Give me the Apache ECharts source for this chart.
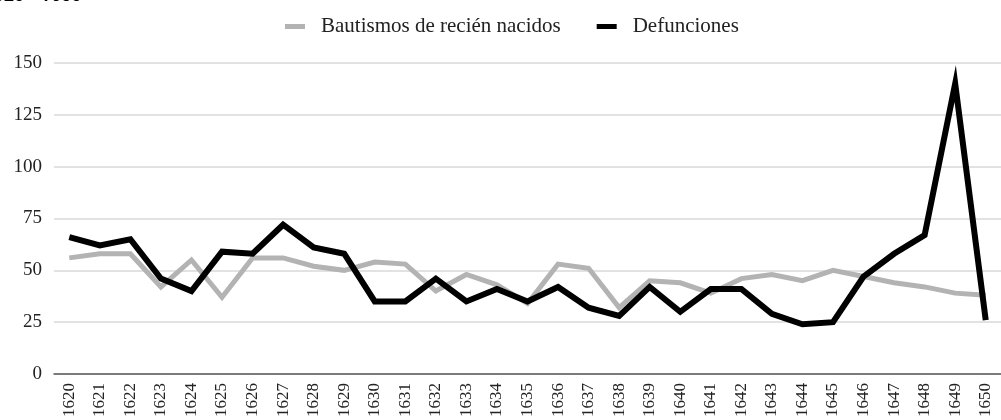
<!DOCTYPE html>
<html>
<head>
<meta charset="utf-8">
<script src="https://cdn.jsdelivr.net/npm/echarts@6/dist/echarts.min.js"></script>
<style>
  html, body { margin: 0; padding: 0; background: #fff; }
  #main { width: 1001px; height: 420px; }
</style>
</head>
<body>
<div id="main"></div>
<script>
// years on the x axis
var years = ['1620','1621','1622','1623','1624','1625','1626','1627','1628','1629',
  '1630','1631','1632','1633','1634','1635','1636','1637','1638','1639',
  '1640','1641','1642','1643','1644','1645','1646','1647','1648','1649','1650']

var bautismos = [56,58,58,42,55,37,56,56,52,50,
  54,53,40,48,43,34,53,51,32,45,
  44,39,46,48,45,50,47,44,42,39,38]

var defunciones = [66,62,65,46,40,59,58,72,61,58,
  35,35,46,35,41,35,42,32,28,42,
  30,41,41,29,24,25,47,58,67,140,26]

var yTicks = [0, 25, 50, 75, 100, 125, 150]

var serif = '"Liberation Serif", "DejaVu Serif", serif'

var chart = echarts.init(document.getElementById('main'), null, { renderer: 'canvas' })

var option = {
  animation: false,
  backgroundColor: '#fff',
  graphic: [{
    // title is cut off at the top of the picture
    type: 'text',
    x: -17,
    y: -13,
    style: { text: '1620 - 1650', font: 'bold 18px Roboto, sans-serif', fill: '#000', verticalAlign: 'top' }
  }],
  legend: {
    left: 280,
    top: 11,
    itemWidth: 20,
    itemHeight: 5,
    itemGap: 36,
    icon: 'rect',
    textStyle: { fontFamily: serif, fontSize: 21, color: '#222', padding: [0, 0, 0, 11] },
    data: ['Bautismos de recién nacidos', 'Defunciones']
  },
  grid: {
    left: 54,
    top: 63,
    width: 958,
    height: 315,
    containLabel: false
  },
  xAxis: {
    type: 'category',
    data: years,
    boundaryGap: true,
    axisLine: { lineStyle: { color: '#595959', width: 1.5 } },
    axisTick: { show: false },
    axisLabel: {
      rotate: 90,
      interval: 0,
      margin: 9,
      fontFamily: serif,
      fontSize: 17,
      color: '#222'
    }
  },
  yAxis: {
    type: 'value',
    min: yTicks[0],
    max: yTicks[yTicks.length - 1],
    interval: 25,
    axisLine: { show: false },
    axisTick: { show: false },
    splitLine: { lineStyle: { color: '#d9d9d9', width: 1.5 } },
    axisLabel: {
      margin: 12,
      fontFamily: serif,
      fontSize: 19,
      color: '#222'
    }
  },
  series: [
    {
      name: 'Bautismos de recién nacidos',
      type: 'line',
      data: bautismos,
      symbol: 'none',
      color: '#b3b3b3',
      lineStyle: { color: '#b3b3b3', width: 5, join: 'miter' }
    },
    {
      name: 'Defunciones',
      type: 'line',
      data: defunciones,
      symbol: 'none',
      color: '#000',
      lineStyle: { color: '#000', width: 6, join: 'miter' }
    }
  ]
}

chart.setOption(option)
</script>
</body>
</html>
